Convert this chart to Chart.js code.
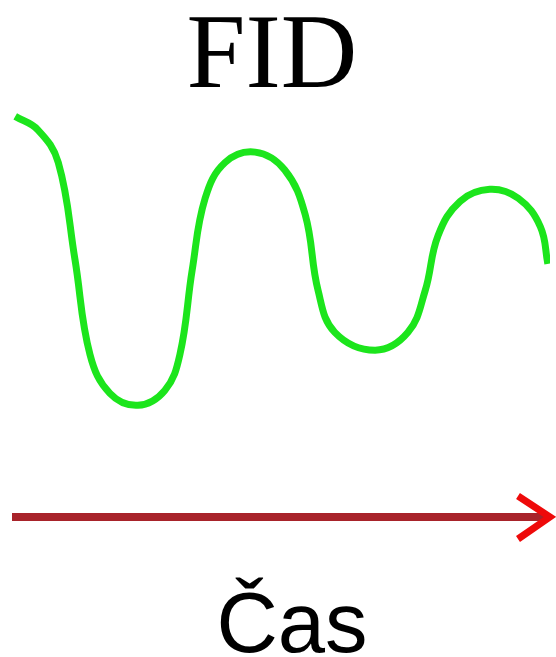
<!DOCTYPE html>
<html>
<head>
<meta charset="utf-8">
<title>FID</title>
<script src="https://cdn.jsdelivr.net/npm/chart.js@4.4.1/dist/chart.umd.min.js"></script>
<style>
    html, body { margin: 0; padding: 0; background: #ffffff; }
    #wrap { position: relative; width: 556px; height: 657px; }
</style>
</head>
<body>
<div id="wrap"><canvas id="chart"></canvas></div>
<script>
// free induction decay
const time = [0.06, 0.48, 0.86, 1.17, 1.45, 1.82, 2.34, 2.84, 3.12, 3.35,
    3.59, 3.96, 4.52, 5.07, 5.45, 5.69, 6.00, 6.75, 7.36, 7.68,
    7.92, 8.33, 8.88, 9.41, 9.82, 9.96];
const signal = [1.04, 0.95, 0.73, 0.08, -0.56, -0.82, -0.90, -0.80, -0.56, 0.01,
    0.49, 0.73, 0.80, 0.68, 0.38, -0.13, -0.41, -0.53, -0.41, -0.13,
    0.24, 0.47, 0.55, 0.49, 0.30, 0.05];

const titleText = 'FID';
const axisText = 'Čas';

const points = time.map((t, i) => ({ x: t, y: signal[i] }));

// title on top, time arrow along the bottom of the plot area, label under it
const decorations = {
    id: 'decorations',
    afterDraw(chart) {
        const { ctx, chartArea } = chart;
        const y = chartArea.bottom;
        ctx.save();

        ctx.strokeStyle = '#a8232a';
        ctx.lineWidth = 8;
        ctx.beginPath();
        ctx.moveTo(chartArea.left, y);
        ctx.lineTo(chart.width - 12, y);
        ctx.stroke();

        ctx.strokeStyle = '#ee0a0a';
        ctx.lineWidth = 7;
        ctx.lineJoin = 'miter';
        ctx.beginPath();
        ctx.moveTo(chart.width - 38, y - 21);
        ctx.lineTo(chart.width - 6, y);
        ctx.lineTo(chart.width - 38, y + 22);
        ctx.stroke();

        ctx.fillStyle = '#000000';
        ctx.textAlign = 'center';
        ctx.textBaseline = 'alphabetic';
        ctx.font = '106px "Liberation Serif", "Times New Roman", serif';
        ctx.fillText(titleText, 272, 87);
        ctx.font = '85px "Liberation Sans", Arial, sans-serif';
        ctx.fillText(axisText, 292, 652);
        ctx.restore();
    }
};

new Chart(document.getElementById('chart'), {
    type: 'line',
    data: {
        datasets: [{
            label: titleText,
            data: points,
            borderColor: '#1ce51c',
            borderWidth: 7,
            pointRadius: 0,
            fill: false,
            tension: 0.4
        }]
    },
    options: {
        responsive: true,
        maintainAspectRatio: false,
        animation: false,
        layout: {
            padding: { top: 100, bottom: 140, left: 12, right: 6 }
        },
        scales: {
            x: { type: 'linear', min: 0, max: 10, display: false },
            y: { min: -1.65, max: 1.15, display: false }
        },
        plugins: {
            legend: { display: false },
            tooltip: { enabled: false }
        }
    },
    plugins: [decorations]
});
</script>
</body>
</html>
